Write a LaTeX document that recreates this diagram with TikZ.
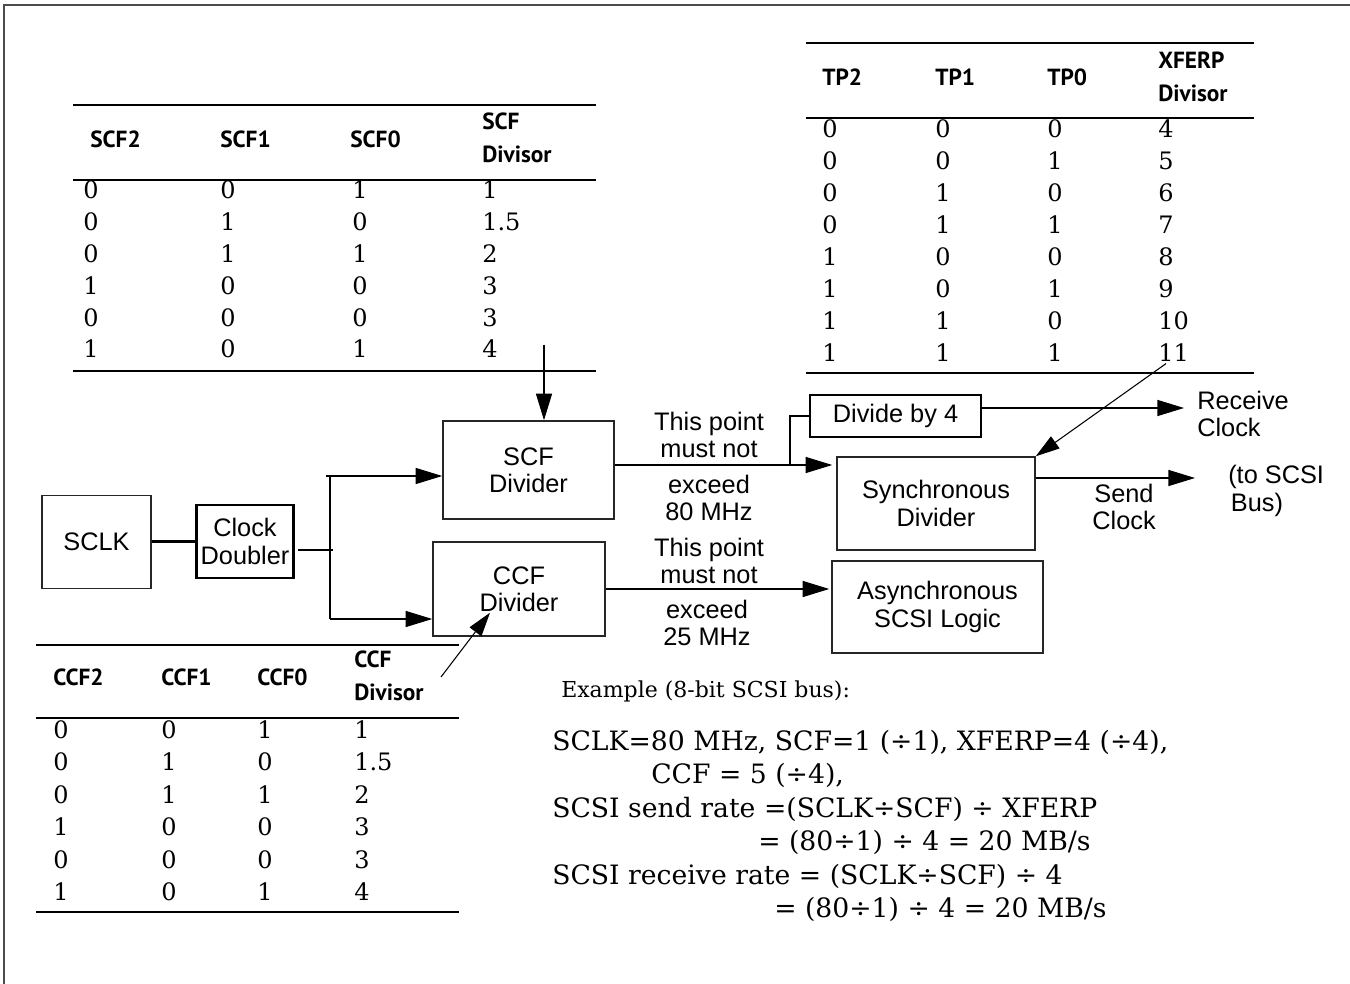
\documentclass[tikz,border=0pt]{standalone}
\usepackage{fontspec}
\setmainfont{DejaVu Serif}
\newfontfamily\labfont{Liberation Sans}
\newfontfamily\hdrfont{PT Sans}
\usetikzlibrary{arrows.meta}
\begin{document}
\begin{tikzpicture}[x=0.75pt,y=-0.75pt,
  box/.style={draw=black!85, line width=1.1pt, inner sep=0pt, align=center, font=\labfont\fontsize{19}{20.5}\selectfont},
  thickbox/.style={box, draw=black, line width=2.2pt},
  lab/.style={inner sep=0pt, align=center, font=\labfont\fontsize{19}{20.5}\selectfont},
  hdr/.style={inner sep=0pt, anchor=west, align=left, font=\hdrfont\bfseries\fontsize{17.5}{24.5}\selectfont},
  cell/.style={inner sep=0pt, anchor=base west, font=\fontsize{18}{20}\selectfont},
  ex/.style={inner sep=0pt, anchor=base west, font=\fontsize{20}{24}\selectfont},
  rulel/.style={line width=1.5pt},
  wire/.style={line width=1.1pt},
  arr/.style={wire, -{Triangle[length=20pt,width=12pt]}},
  darr/.style={line width=0.8pt, -{Triangle[length=18pt,width=11pt]}},
]
\useasboundingbox (0,0) rectangle (1350,984);
% frame
\draw[black!70, line width=1.5pt] (1350,5) -- (4,5) -- (4,984);

% ---------- SCF table ----------
\foreach \yy in {105,180,371} \draw[rulel] (73,\yy) -- (596,\yy);
\node[hdr] (hs2) at (90,139) {SCF2};
\node[hdr] (hs1) at (220,139) {SCF1};
\node[hdr] (hs0) at (350,139) {SCF0};
\node[hdr] (hsd) at (482,138) {SCF\\Divisor};
\foreach \a/\b/\c/\d [count=\i] in {0/0/1/1, 0/1/0/1.5, 0/1/1/2, 1/0/0/3, 0/0/0/3, 1/0/1/4}{
  \pgfmathsetmacro\yy{199+31.8*(\i-1)}
  \node[cell] (sa\i) at (83,\yy) {\a};
  \node[cell] (sb\i) at (220,\yy) {\b};
  \node[cell] (sc\i) at (352,\yy) {\c};
  \node[cell] (sd\i) at (482,\yy) {\d};
}

% ---------- CCF table ----------
\foreach \yy in {645,718,912} \draw[rulel] (36,\yy) -- (459,\yy);
\node[hdr] (hc2) at (53,677) {CCF2};
\node[hdr] (hc1) at (161,677) {CCF1};
\node[hdr] (hc0) at (257,677) {CCF0};
\node[hdr] (hcd) at (354,676) {CCF\\Divisor};
\foreach \a/\b/\c/\d [count=\i] in {0/0/1/1, 0/1/0/1.5, 0/1/1/2, 1/0/0/3, 0/0/0/3, 1/0/1/4}{
  \pgfmathsetmacro\yy{738+32.5*(\i-1)}
  \node[cell] (ca\i) at (53,\yy) {\a};
  \node[cell] (cb\i) at (161,\yy) {\b};
  \node[cell] (cc\i) at (257,\yy) {\c};
  \node[cell] (cd\i) at (354,\yy) {\d};
}

% ---------- TP table ----------
\foreach \yy in {43,118,373} \draw[rulel] (806,\yy) -- (1254,\yy);
\node[hdr] (ht2) at (822,77) {TP2};
\node[hdr] (ht1) at (935,77) {TP1};
\node[hdr] (ht0) at (1047,77) {TP0};
\node[hdr] (htd) at (1158,77) {XFERP\\Divisor};
\foreach \a/\b/\c/\d [count=\i] in {0/0/0/4, 0/0/1/5, 0/1/0/6, 0/1/1/7, 1/0/0/8, 1/0/1/9, 1/1/0/10, 1/1/1/11}{
  \pgfmathsetmacro\yy{138+32*(\i-1)}
  \node[cell] (ta\i) at (822,\yy) {\a};
  \node[cell] (tb\i) at (935,\yy) {\b};
  \node[cell] (tc\i) at (1047,\yy) {\c};
  \node[cell] (td\i) at (1158,\yy) {\d};
}

% ---------- blocks ----------
\node[box, minimum width=81.75pt, minimum height=69.75pt] (sclk) at (96.5,542) {SCLK};
\node[thickbox, minimum width=72.75pt, minimum height=54.75pt] (dbl) at (245,541.5) {Clock\\Doubler};
\node[box, minimum width=128.25pt, minimum height=73.5pt] (scf) at (528.5,470) {SCF\\Divider};
\node[box, minimum width=129pt, minimum height=70.5pt] (ccf) at (519,589) {CCF\\Divider};
\node[thickbox, minimum width=128.25pt, minimum height=31.5pt] (div4) at (895.5,416) {Divide by 4};
\node[box, minimum width=148.5pt, minimum height=69.75pt] (sync) at (936,503.5) {Synchronous\\Divider};
\node[box, minimum width=158.25pt, minimum height=69pt] (async) at (937.5,607) {Asynchronous\\SCSI Logic};

% ---------- labels ----------
\node[lab] (lp1) at (709,435) {This point\\must not};
\node[lab] (lx1) at (709,498) {exceed\\80 MHz};
\node[lab] (lp2) at (709,561) {This point\\must not};
\node[lab] (lx2) at (707,623) {exceed\\25 MHz};
\node[lab, align=left, anchor=west] (recv) at (1197,414) {Receive\\Clock};
\node[lab] (send) at (1124,507) {Send\\Clock};
\node[lab, align=left, anchor=west] (bus) at (1228,491) {(to SCSI\\\hspace*{2pt}Bus)};

% ---------- connectors ----------
\coordinate (sa) at (544,345);
\draw[arr] (sa) -- (sa |- scf.north);
\draw[line width=2pt] (sclk.east |- dbl.west) -- (dbl.west);
\coordinate (jd) at (298,550);
\coordinate (jm) at (333,550);
\coordinate (jt) at (330,476);
\coordinate (jb) at (330,619);
\draw[wire] (jd) -- (jm);
\draw[wire] (jt) -- (jb);
\draw[arr] ([xshift=-3pt]jt) -- (scf.west |- jt);
\draw[arr] (jb) -- (ccf.west |- jb);
\coordinate (b1) at (790,465);
\draw[arr] (scf.east |- b1) -- ([xshift=-3pt]sync.west |- b1);
\draw[wire] (b1) |- (div4.west);
\coordinate (rc) at (1184,408);
\draw[arr] (div4.east |- rc) -- (rc);
\coordinate (sc) at (1195,478);
\draw[arr] (sync.east |- sc) -- (sc);
\draw[arr] (ccf.east) -- ([xshift=-1.5pt]async.west |- ccf.east);
\draw[darr] ([xshift=6pt,yshift=-1pt]td8.south west) -- (sync.north east);
\coordinate (cdi) at (441,677);
\draw[darr] (cdi) -- ([xshift=-21.75pt,yshift=18pt]ccf.south);

% ---------- example ----------
\node[ex, font=\fontsize{16.5}{20}\selectfont] (e0) at (561,697) {Example (8-bit SCSI bus):};
\node[ex] (e1) at (552,750) {SCLK=80 MHz, SCF=1 (÷1), XFERP=4 (÷4),};
\node[ex] (e2) at (651,783.5) {CCF = 5 (÷4),};
\node[ex] (e3) at (552,817) {SCSI send rate =(SCLK÷SCF) ÷ XFERP};
\node[ex] (e4) at (758,850.5) {= (80÷1) ÷ 4 = 20 MB/s};
\node[ex] (e5) at (552,884) {SCSI receive rate = (SCLK÷SCF) ÷ 4};
\node[ex] (e6) at (774,917.5) {= (80÷1) ÷ 4 = 20 MB/s};
\end{tikzpicture}
\end{document}
